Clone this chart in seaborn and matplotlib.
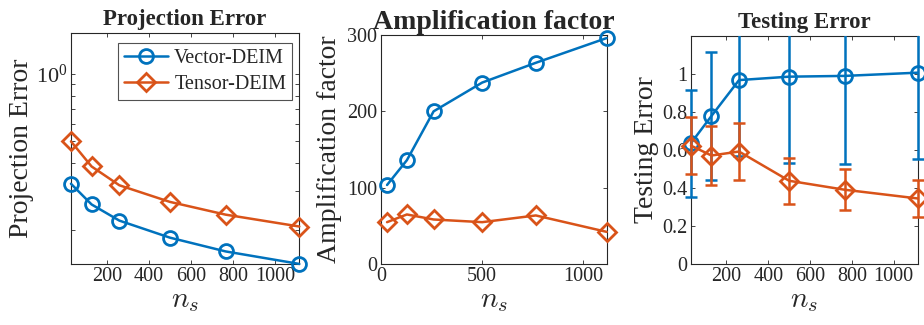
import numpy as np
import pandas as pd
import matplotlib
matplotlib.use("Agg")
import matplotlib.pyplot as plt
import seaborn as sns
from matplotlib.patches import Rectangle
from matplotlib.ticker import LogLocator, NullFormatter, FixedLocator, FixedFormatter

# ---------------- data ----------------
ns = [30, 128, 260, 500, 765, 1115]
methods = ["Vector-DEIM", "Tensor-DEIM"]
proj_vector = [0.322, 0.260, 0.220, 0.1845, 0.160, 0.1406]
proj_tensor = [0.499, 0.385, 0.317, 0.267, 0.234, 0.207]
amp_vector = [103.5, 136, 200, 237.7, 263.6, 296]
amp_tensor = [54.8, 64.9, 58.3, 54.8, 63.6, 42.1]
test_vector = [0.636, 0.779, 0.968, 0.986, 0.990, 1.007]
test_vector_err = [0.282, 0.335, 0.397, 0.456, 0.463, 0.455]
test_tensor = [0.623, 0.571, 0.592, 0.438, 0.391, 0.345]
test_tensor_err = [0.150, 0.157, 0.149, 0.120, 0.107, 0.095]

colors = {"Vector-DEIM": "#0072BD", "Tensor-DEIM": "#D95319"}
markers = {"Vector-DEIM": "o", "Tensor-DEIM": "D"}

def long_df(v, t):
    return pd.DataFrame({
        "ns": ns + ns,
        "val": list(v) + list(t),
        "method": [methods[0]] * len(ns) + [methods[1]] * len(ns),
    })

sns.set_style("ticks")
plt.rcParams["font.family"] = ["Liberation Serif", "DejaVu Serif"]
plt.rcParams["mathtext.fontset"] = "stix"
plt.rcParams["axes.edgecolor"] = "#262626"
plt.rcParams["xtick.color"] = "#262626"
plt.rcParams["ytick.color"] = "#262626"

TICK_FS = 14.5
LAB_FS = 20
X_FS = 21

fig = plt.figure(figsize=(9.24, 3.25), dpi=100)
ax1 = fig.add_axes([0.0768, 0.1877, 0.2471, 0.7108])
ax2 = fig.add_axes([0.4123, 0.1877, 0.2443, 0.7046])
ax3 = fig.add_axes([0.7478, 0.1877, 0.2453, 0.7015])

def draw(ax, v, t):
    sns.lineplot(data=long_df(v, t), x="ns", y="val", hue="method", style="method",
                 palette=colors, markers=markers, dashes=False, legend=False,
                 ax=ax, lw=1.8, zorder=5)
    lines = ax.lines[-2:]
    for ln, m in zip(lines, methods):
        c = colors[m]
        ln.set_color(c)
        ln.set_markeredgecolor(c)
        ln.set_markerfacecolor("none")
        ln.set_markeredgewidth(2.0)
        ln.set_markersize(10 if m == "Vector-DEIM" else 9.5)
        ln.set_clip_on(False)
    return lines

def style_axes(ax):
    ax.tick_params(direction="in", top=True, right=True, labelsize=TICK_FS,
                   length=3, width=0.6, which="both", labelcolor="#262626", pad=2.5)
    for s in ax.spines.values():
        s.set_linewidth(0.8)
        s.set_color("#262626")

def xlab(ax):
    ax.set_xlabel("$n_s$", fontsize=X_FS, labelpad=1, math_fontfamily="cm")

# ---- Panel 1 ----
lines = draw(ax1, proj_vector, proj_tensor)
ax1.set_yscale("log")
ax1.set_xlim(ns[0], ns[-1])
ax1.set_ylim(0.1405, 1.53)
ax1.xaxis.set_major_locator(FixedLocator([200, 400, 600, 800, 1000]))
ax1.yaxis.set_major_locator(LogLocator(base=10))
ax1.yaxis.set_minor_locator(LogLocator(base=10, subs=np.arange(2, 10)))
ax1.yaxis.set_minor_formatter(NullFormatter())
style_axes(ax1)
ax1.tick_params(axis="y", labelsize=16)
ax1.set_title("Projection Error", fontsize=16.5, fontweight="bold", pad=6)
ax1.set_ylabel("Projection Error", fontsize=LAB_FS)
ax1.yaxis.set_label_coords(-0.162, 0.5)
xlab(ax1)
leg = ax1.legend(handles=lines, labels=methods, loc="upper right", fontsize=14.5,
                 frameon=True, fancybox=False, edgecolor="#262626",
                 bbox_to_anchor=(1 - 7 / 228, 1 - 10 / 231), borderaxespad=0,
                 handlelength=2.2, handletextpad=0.3, borderpad=0.3,
                 labelspacing=0.35)
leg.get_frame().set_linewidth(0.8)

# ---- Panel 2 ----
draw(ax2, amp_vector, amp_tensor)
ax2.set_xlim(0, ns[-1])
ax2.set_ylim(0, 300)
ax2.xaxis.set_major_locator(FixedLocator([0, 500, 1000]))
ax2.yaxis.set_major_locator(FixedLocator([0, 100, 200, 300]))
style_axes(ax2)
ax2.set_title("Amplification factor", fontsize=20, fontweight="bold", pad=4)
ax2.set_ylabel("Amplification factor", fontsize=LAB_FS)
ax2.yaxis.set_label_coords(-0.173, 0.5)
xlab(ax2)

# ---- Panel 3 ----
clip_rect = Rectangle((-0.1, 0.0), 1.2, 1.0, transform=ax3.transAxes,
                      facecolor="none", edgecolor="none")
ax3.add_patch(clip_rect)
for vals, errs, m, z in [(test_vector, test_vector_err, methods[0], 3),
                         (test_tensor, test_tensor_err, methods[1], 4)]:
    eb = ax3.errorbar(ns, vals, yerr=errs, fmt="none", ecolor=colors[m],
                      elinewidth=1.8, capsize=4, capthick=1.8, zorder=z)
    for art in list(eb.lines[1]) + list(eb.lines[2]):
        art.set_clip_path(clip_rect)
lines3 = draw(ax3, test_vector, test_tensor)
lines3[0].set_zorder(3.5)
lines3[1].set_zorder(4.5)
ax3.set_xlim(ns[0], ns[-1])
ax3.set_ylim(0, 1.2)
ax3.xaxis.set_major_locator(FixedLocator([200, 400, 600, 800, 1000]))
ax3.yaxis.set_major_locator(FixedLocator([0, 0.2, 0.4, 0.6, 0.8, 1.0]))
ax3.yaxis.set_major_formatter(FixedFormatter(["0", "0.2", "0.4", "0.6", "0.8", "1"]))
style_axes(ax3)
ax3.set_title("Testing Error", fontsize=16.5, fontweight="bold", pad=6)
ax3.set_ylabel("Testing Error", fontsize=LAB_FS)
ax3.yaxis.set_label_coords(-0.141, 0.5)
xlab(ax3)

fig.savefig("out.png", dpi=100)
